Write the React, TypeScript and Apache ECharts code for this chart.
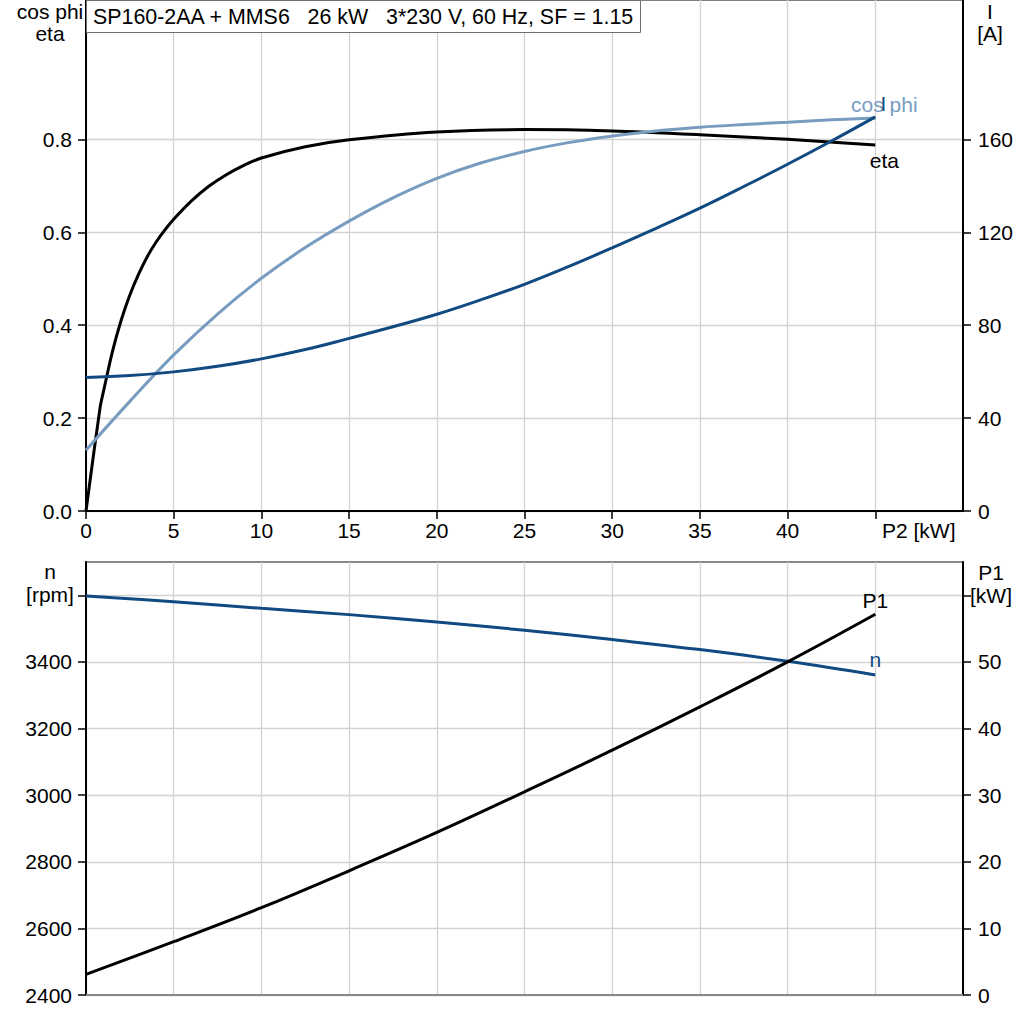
import React, { useEffect, useRef } from "react";
import * as echarts from "echarts";

const FONT = '"Liberation Sans", Arial, Helvetica, sans-serif';
const BLACK = "#000000";
const LIGHT_BLUE = "#789cbf";
const DARK_BLUE = "#114a80";
const GRID_GRAY = "#d3d3d3";

const titleText = "SP160-2AA + MMS6   26 kW   3*230 V, 60 Hz, SF = 1.15";

// x ticks (P2 [kW])
const xTickValues = [0, 5, 10, 15, 20, 25, 30, 35, 40, 45];
const xLabelValues = [0, 5, 10, 15, 20, 25, 30, 35, 40];

// top chart tick labels
const leftTopTicks = [0, 0.2, 0.4, 0.6, 0.8];
const rightTopTicks = [0, 40, 80, 120, 160];
// bottom chart tick labels
const leftBottomTicks = [2400, 2600, 2800, 3000, 3200, 3400, 3600];
const leftBottomLabels = [2400, 2600, 2800, 3000, 3200, 3400];
const rightBottomTicks = [0, 10, 20, 30, 40, 50, 60];
const rightBottomLabels = [0, 10, 20, 30, 40, 50];

// eta
const etaP2 = [0, 0.8, 1.0, 1.5, 2.0, 2.5, 3.0, 3.5, 4.0, 4.5, 5.0, 6.0, 7.0, 8.0, 9.0, 10, 12.5, 15, 20, 25, 30, 35, 40, 45];
const etaValues = [0, 0.222, 0.258, 0.342, 0.41, 0.465, 0.51, 0.548, 0.579, 0.605, 0.628, 0.667, 0.699, 0.724, 0.744, 0.76, 0.784, 0.799, 0.816, 0.821, 0.818, 0.81, 0.8, 0.788];

// cos phi
const cosP2 = [0, 2.5, 5, 7.5, 10, 12.5, 15, 17.5, 20, 22.5, 25, 27.5, 30, 32.5, 35, 37.5, 40, 42.5, 45];
const cosValues = [0.131, 0.236, 0.336, 0.424, 0.501, 0.567, 0.624, 0.674, 0.716, 0.749, 0.774, 0.793, 0.807, 0.818, 0.826, 0.832, 0.837, 0.842, 0.846];

// current I [A]
const iP2 = [0, 2.5, 5, 7.5, 10, 12.5, 15, 17.5, 20, 22.5, 25, 27.5, 30, 32.5, 35, 37.5, 40, 42.5, 45];
const iValues = [57.5, 58.3, 59.9, 62.3, 65.5, 69.5, 74.3, 79.3, 84.7, 90.9, 97.6, 105.2, 113.3, 121.7, 130.4, 139.7, 149.3, 159.3, 169.7];

// speed n [rpm] and P1 [kW]
const lowerP2 = [0, 5, 10, 15, 20, 25, 30, 35, 40, 45];
const nValues = [3598, 3581, 3561, 3542, 3520, 3495, 3467, 3437, 3402, 3361];
const p1Values = [3.1, 8.0, 13.1, 18.65, 24.4, 30.5, 36.75, 43.25, 50.0, 57.15];

function buildData(xs: number[], ys: number[], endLabel: any) {
  return xs.map((x, i) =>
    i === xs.length - 1 ? { value: [x, ys[i]], label: endLabel } : [x, ys[i]]
  );
}

const labelBase = { show: true, fontSize: 21, fontFamily: FONT };

export default function App() {
  const ref = useRef<HTMLDivElement>(null);

  useEffect(() => {
    if (!ref.current) return;
    const chart = echarts.init(ref.current, undefined, { renderer: "svg" });

    const axisText = { fontSize: 21, fontFamily: FONT, color: BLACK, formatter: (v: number) => String(v) };
    const tickStyle = { color: BLACK, width: 1.5 };

    const gt = (text: string, x: number, y: number, align: string, lh: number) => ({
      type: "text",
      x,
      y,
      style: {
        text,
        fill: BLACK,
        fontSize: 21,
        fontFamily: FONT,
        align,
        textAlign: align,
        verticalAlign: "middle",
        textVerticalAlign: "middle",
        lineHeight: lh,
      },
      z: 10,
    });

    const lineSeries = (name: string, xi: number, yi: number, color: string, z: number, data: any[], smooth: number) => ({
      name,
      type: "line",
      xAxisIndex: xi,
      yAxisIndex: yi,
      smooth,
      symbol: "circle",
      symbolSize: 0,
      showSymbol: true,
      lineStyle: { color, width: 3 },
      itemStyle: { color },
      label: { show: false },
      emphasis: { disabled: true },
      data,
      z,
    });

    const option: any = {
      animation: false,
      backgroundColor: "#ffffff",
      textStyle: { fontFamily: FONT },
      title: {
        text: titleText,
        left: 86,
        top: 0,
        padding: [5, 6, 5, 7],
        backgroundColor: "#ffffff",
        borderColor: "#707070",
        borderWidth: 1,
        textStyle: { fontSize: 21.4, fontWeight: "normal", color: BLACK, fontFamily: FONT, lineHeight: 23 },
        z: 20,
      },
      grid: [
        { left: 86, right: 61, top: 0, height: 511, show: true, borderColor: BLACK, borderWidth: 1, backgroundColor: "transparent" },
        { left: 86, right: 61, top: 562, height: 433, show: true, borderColor: "#888888", borderWidth: 2, backgroundColor: "transparent" },
      ],
      xAxis: [
        {
          gridIndex: 0,
          type: "value",
          min: 0,
          max: 50,
          interval: 5,
          axisLine: { show: true, onZero: false, lineStyle: { color: BLACK, width: 2 } },
          axisTick: { show: true, customValues: xTickValues, length: 8, lineStyle: tickStyle },
          axisLabel: { ...axisText, customValues: xLabelValues, margin: 9 },
          splitLine: { show: true, lineStyle: { color: GRID_GRAY, width: 1.3 } },
        },
        {
          gridIndex: 1,
          type: "value",
          min: 0,
          max: 50,
          interval: 5,
          axisLine: { show: true, onZero: false, lineStyle: { color: "#888888", width: 2 } },
          axisTick: { show: false },
          axisLabel: { show: false },
          splitLine: { show: true, lineStyle: { color: GRID_GRAY, width: 1.3 } },
        },
      ],
      yAxis: [
        {
          gridIndex: 0,
          type: "value",
          position: "left",
          min: 0,
          max: 1.1,
          interval: 0.1,
          axisLine: { show: true, onZero: false, lineStyle: { color: BLACK, width: 2 } },
          axisTick: { show: true, customValues: leftTopTicks, length: 8, lineStyle: tickStyle },
          axisLabel: { ...axisText, customValues: leftTopTicks, margin: 14, formatter: (v: number) => v.toFixed(1) },
          splitLine: { show: true, lineStyle: { color: GRID_GRAY, width: 1.3 } },
        },
        {
          gridIndex: 0,
          type: "value",
          position: "right",
          min: 0,
          max: 220,
          interval: 20,
          axisLine: { show: true, onZero: false, lineStyle: { color: BLACK, width: 2 } },
          axisTick: { show: true, customValues: rightTopTicks, length: 8, lineStyle: tickStyle },
          axisLabel: { ...axisText, customValues: rightTopTicks, margin: 15 },
          splitLine: { show: false },
        },
        {
          gridIndex: 1,
          type: "value",
          position: "left",
          min: 2400,
          max: 3700,
          interval: 100,
          axisLine: { show: true, onZero: false, lineStyle: { color: BLACK, width: 2 } },
          axisTick: { show: true, customValues: leftBottomTicks, length: 8, lineStyle: tickStyle },
          axisLabel: { ...axisText, customValues: leftBottomLabels, margin: 14 },
          splitLine: { show: true, lineStyle: { color: GRID_GRAY, width: 1.3 } },
        },
        {
          gridIndex: 1,
          type: "value",
          position: "right",
          min: 0,
          max: 65,
          interval: 5,
          axisLine: { show: true, onZero: false, lineStyle: { color: BLACK, width: 2 } },
          axisTick: { show: true, customValues: rightBottomTicks, length: 8, lineStyle: tickStyle },
          axisLabel: { ...axisText, customValues: rightBottomLabels, margin: 15 },
          splitLine: { show: false },
        },
      ],
      graphic: [
        gt("cos phi\neta", 50, 22, "center", 22),
        gt("I\n[A]", 990, 22, "center", 22),
        gt("n\n[rpm]", 50, 583, "center", 23),
        gt("P1\n[kW]", 991, 584, "center", 23),
        gt("P2 [kW]", 882, 530, "left", 22),
      ],
      series: [
        lineSeries("eta", 0, 0, BLACK, 3,
          buildData(etaP2, etaValues, { ...labelBase, formatter: "eta", color: BLACK, position: "bottom", distance: 5, offset: [9, 0] }), 0.3),
        lineSeries("cos phi", 0, 0, LIGHT_BLUE, 4,
          buildData(cosP2, cosValues, { ...labelBase, formatter: "cos phi", color: LIGHT_BLUE, position: "top", distance: 3, offset: [9, 0] }), 0.4),
        lineSeries("I", 0, 1, DARK_BLUE, 5,
          buildData(iP2, iValues, { ...labelBase, formatter: "I", color: DARK_BLUE, position: "top", distance: 3, offset: [8, 0] }), 0.4),
        lineSeries("n", 1, 2, DARK_BLUE, 3,
          buildData(lowerP2, nValues, { ...labelBase, formatter: "n", color: DARK_BLUE, position: "top", distance: 5, offset: [0, 0] }), 0.4),
        lineSeries("P1", 1, 3, BLACK, 4,
          buildData(lowerP2, p1Values, { ...labelBase, formatter: "P1", color: BLACK, position: "top", distance: 3, offset: [0, 0] }), 0.4),
      ],
    };

    chart.setOption(option);
    return () => {
      chart.dispose();
    };
  }, []);

  return (
    <div
      ref={ref}
      style={{ position: "absolute", left: 0, top: 0, width: 1024, height: 1024, background: "#fff" }}
    />
  );
}
